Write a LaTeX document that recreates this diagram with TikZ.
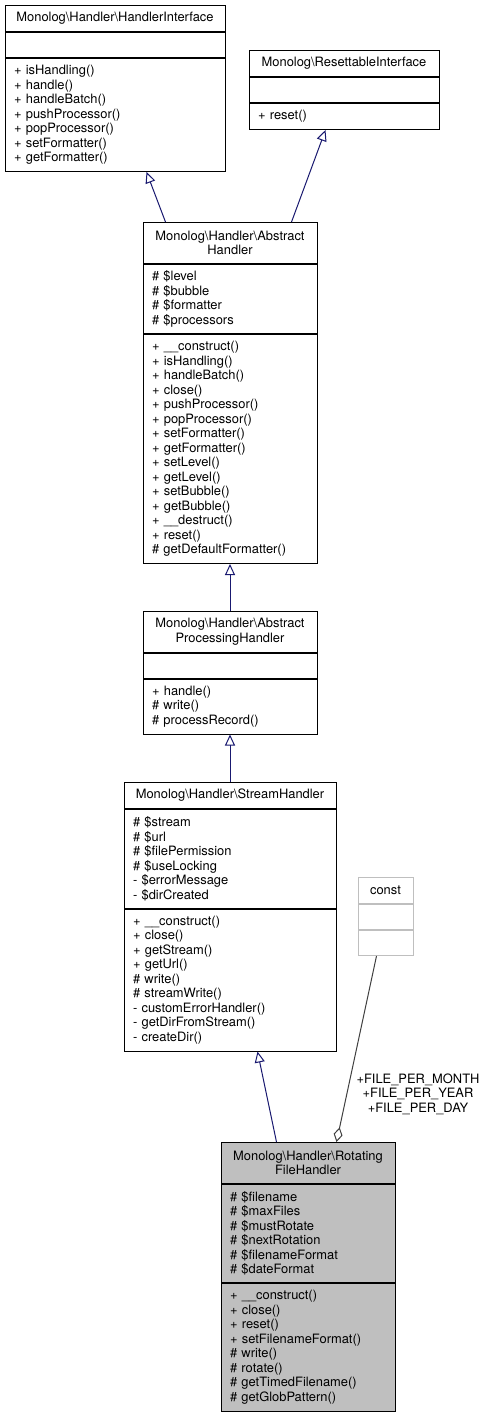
\documentclass[tikz,border=0pt]{standalone}
\usepackage{fontspec}
\setmainfont{TeX Gyre Heros}
\usetikzlibrary{positioning,calc,arrows.meta}

\definecolor{edgeblue}{HTML}{191970}
\definecolor{boxgray}{HTML}{BFBFBF}
\definecolor{usegray}{HTML}{404040}
\newcommand{\bsl}{\textbackslash{}}

\begin{document}
\begin{tikzpicture}[x=1pt, y=-1pt, node distance=0pt, line width=1pt,
    part/.style={draw=black, fill=white, inner xsep=9pt, inner ysep=0pt, text width=#1, align=left, font=\fontsize{12.9}{14.5}\selectfont},
    head/.style={part=#1, align=center},
    isa/.style={draw=edgeblue, -{Triangle[open, length=11pt, width=10pt]}},
    uses/.style={draw=usegray, -{Diamond[open, length=15pt, width=9pt]}}]
    \path[fill=white, use as bounding box] (0,0) rectangle (489,1415);

    % HandlerInterface
    \node[head=202pt, minimum height=26pt, anchor=north] (HI) at (115,5) {Monolog\bsl Handler\bsl HandlerInterface};
    \node[part=202pt, minimum height=25pt, below=of HI] (HIa) {};
    \node[part=202pt, minimum height=113pt, below=of HIa] (HIm) {+ isHandling()\\+ handle()\\+ handleBatch()\\+ pushProcessor()\\+ popProcessor()\\+ setFormatter()\\+ getFormatter()};

    % ResettableInterface
    \node[head=172pt, minimum height=26pt, anchor=north] (RI) at (344,50) {Monolog\bsl ResettableInterface};
    \node[part=172pt, minimum height=25pt, below=of RI] (RIa) {};
    \node[part=172pt, minimum height=26pt, below=of RIa] (RIm) {+ reset()};

    % AbstractHandler
    \node[head=156pt, minimum height=40.5pt, anchor=north] (AH) at (230,222) {Monolog\bsl Handler\bsl Abstract\\Handler};
    \node[part=156pt, minimum height=69.5pt, below=of AH] (AHa) {\# \$level\\\# \$bubble\\\# \$formatter\\\# \$processors};
    \node[part=156pt, minimum height=229pt, below=of AHa] (AHm) {+ \_\_construct()\\+ isHandling()\\+ handleBatch()\\+ close()\\+ pushProcessor()\\+ popProcessor()\\+ setFormatter()\\+ getFormatter()\\+ setLevel()\\+ getLevel()\\+ setBubble()\\+ getBubble()\\+ \_\_destruct()\\+ reset()\\\# getDefaultFormatter()};

    % AbstractProcessingHandler
    \node[head=156pt, minimum height=40.5pt, anchor=north] (APH) at (230,611) {Monolog\bsl Handler\bsl Abstract\\ProcessingHandler};
    \node[part=156pt, minimum height=25pt, below=of APH] (APHa) {};
    \node[part=156pt, minimum height=55pt, below=of APHa] (APHm) {+ handle()\\\# write()\\\# processRecord()};

    % StreamHandler
    \node[head=194pt, minimum height=26pt, anchor=north] (SH) at (230,782) {Monolog\bsl Handler\bsl StreamHandler};
    \node[part=194pt, minimum height=98.5pt, below=of SH] (SHa) {\# \$stream\\\# \$url\\\# \$filePermission\\\# \$useLocking\\- \$errorMessage\\- \$dirCreated};
    \node[part=194pt, minimum height=142pt, below=of SHa] (SHm) {+ \_\_construct()\\+ close()\\+ getStream()\\+ getUrl()\\\# write()\\\# streamWrite()\\- customErrorHandler()\\- getDirFromStream()\\- createDir()};

    % const
    \node[head=37pt, draw=boxgray, inner xsep=9pt, minimum height=26pt, anchor=north] (CT) at (385.5,877) {const};
    \node[part=37pt, draw=boxgray, minimum height=25pt, below=of CT] (CTa) {};
    \node[part=37pt, draw=boxgray, minimum height=25pt, below=of CTa] (CTm) {};

    % RotatingFileHandler
    \node[head=156pt, fill=boxgray, minimum height=40.5pt, anchor=north] (RFH) at (308,1142) {Monolog\bsl Handler\bsl Rotating\\FileHandler};
    \node[part=156pt, fill=boxgray, minimum height=98.5pt, below=of RFH] (RFHa) {\# \$filename\\\# \$maxFiles\\\# \$mustRotate\\\# \$nextRotation\\\# \$filenameFormat\\\# \$dateFormat};
    \node[part=156pt, fill=boxgray, minimum height=127.5pt, below=of RFHa] (RFHm) {+ \_\_construct()\\+ close()\\+ reset()\\+ setFilenameFormat()\\\# write()\\\# rotate()\\\# getTimedFilename()\\\# getGlobPattern()};

    % Inheritance
    \draw[isa] ($(AH.north west)+(23,0)$) -- ($(HIm.south west)+(142,0)$);
    \draw[isa] ($(AH.north west)+(149,0)$) -- ($(RIm.south west)+(77,0)$);
    \draw[isa] (APH.north) -- (AHm.south);
    \draw[isa] (SH.north) -- (APHm.south);
    \draw[isa] ($(RFH.north west)+(56,0)$) -- ($(SHm.south west)+(134,0)$);

    % Constants
    \node[align=center, font=\fontsize{12.9}{14.5}\selectfont] (lbl) at (418,1094) {+FILE\_PER\_MONTH\\+FILE\_PER\_YEAR\\+FILE\_PER\_DAY};
    \draw[uses] ($(CTm.south west)+(19,0)$) -- ($(RFH.north west)+(116,0)$);
\end{tikzpicture}
\end{document}
